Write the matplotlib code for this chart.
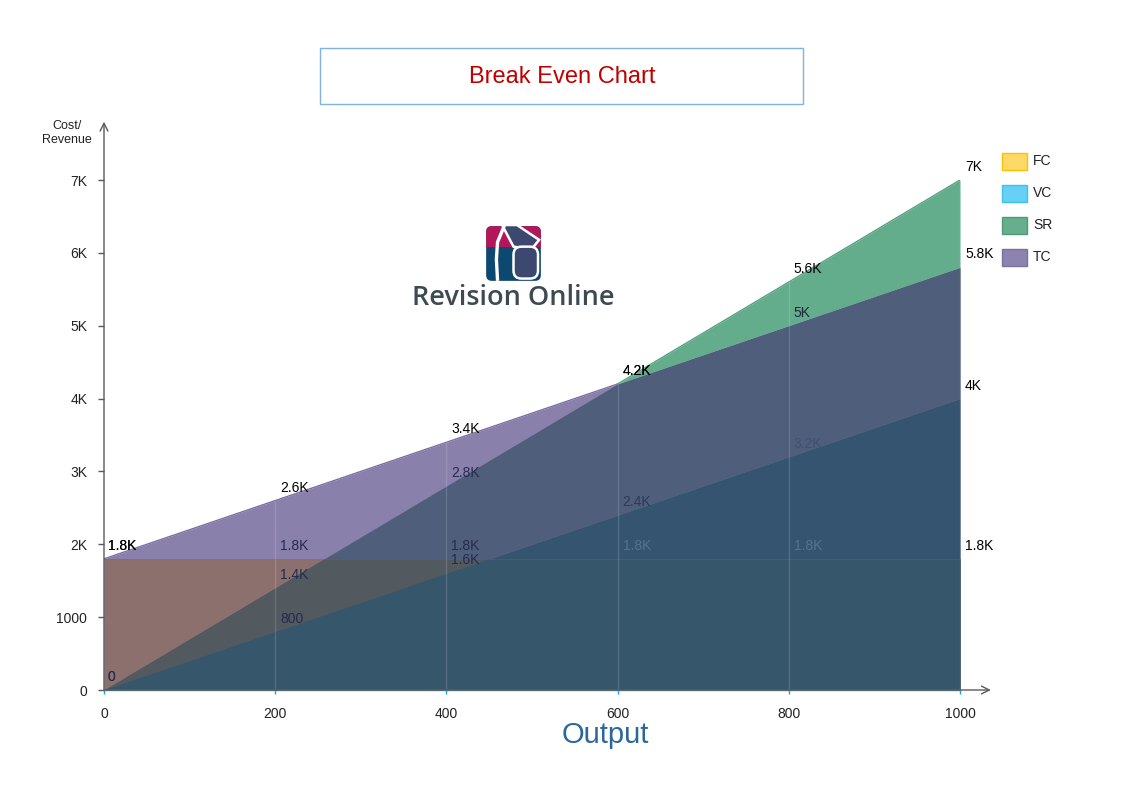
import numpy as np
import matplotlib
matplotlib.use('Agg')
import matplotlib.pyplot as plt
from matplotlib.patches import Rectangle, FancyBboxPatch, Polygon

plt.rcParams['font.family'] = ['Liberation Sans', 'DejaVu Sans']

# Break even data
output = [0, 200, 400, 600, 800, 1000]
fc = [1800, 1800, 1800, 1800, 1800, 1800]      # fixed cost
vc = [0, 800, 1600, 2400, 3200, 4000]          # variable cost
sr = [0, 1400, 2800, 4200, 5600, 7000]         # sales revenue
tc = [1800, 2600, 3400, 4200, 5000, 5800]      # total cost

y_ticks = [0, 1000, 2000, 3000, 4000, 5000, 6000, 7000]
y_tick_labels = ['0', '1000', '2K', '3K', '4K', '5K', '6K', '7K']
legend_names = ['FC', 'VC', 'SR', 'TC']

W, H = 1123, 794


def px(x, y):
    # figure pixel (from top-left) -> figure fraction
    return x / W, 1 - y / H


def fmt(v):
    if v >= 1000:
        s = '%.1f' % (v / 1000)
        return s.rstrip('0').rstrip('.') + 'K'
    return '%d' % v


fig = plt.figure(figsize=(W / 100, H / 100), dpi=100)
ax = fig.add_axes([104 / W, 104 / H, 856 / W, 510 / H])
ax.set_xlim(0, 1000)
ax.set_ylim(0, 7000)

# dense grid only for drawing the straight segments between points
xx = np.linspace(0, 1000, 1001)
fc_i = np.interp(xx, output, fc)
vc_i = np.interp(xx, output, vc)
sr_i = np.interp(xx, output, sr)
tc_i = np.interp(xx, output, tc)

ax.fill_between(xx, 0, tc_i, color='#8A80AC', lw=0)
ax.fill_between(xx, 0, fc_i, color='#8B706E', lw=0)
ax.fill_between(xx, tc_i, np.maximum(sr_i, tc_i), color='#64AD8C', lw=0)
mid_top = np.minimum(sr_i, tc_i)
ax.fill_between(xx, vc_i, mid_top, where=mid_top > vc_i, color='#4E5E7B', lw=0)
low_top = np.minimum(mid_top, fc_i)
ax.fill_between(xx, vc_i, low_top, where=low_top > vc_i, color='#52595F', lw=0)
ax.fill_between(xx, 0, vc_i, color='#34546F', lw=0)
ax.fill_between(xx, 0, np.minimum(vc_i, fc_i), color='#36566C', lw=0)

# edges, only where the series is the outer boundary
ax.plot(xx, np.where(tc_i >= sr_i - 1, tc_i, np.nan), color='#7A6FA0', lw=1)
ax.plot(xx, np.where(sr_i >= tc_i - 1, sr_i, np.nan), color='#55A081', lw=1)
ax.plot(output, fc, color='#7A625E', lw=0.8, alpha=0.35)

# faint vertical lines at each point
tops = np.maximum(sr, tc)
ax.vlines(output[1:], 0, tops[1:], colors='white', alpha=0.15, lw=1)

# data labels
series = [('FC', fc), ('VC', vc), ('SR', sr), ('TC', tc)]
dark = '#262B4D'
faded = {('FC', 3): '#557390', ('FC', 4): '#557390', ('FC', 5): 'black',
         ('VC', 3): '#2C3A57', ('VC', 4): '#3D5272', ('VC', 5): 'black',
         ('SR', 5): 'black', ('TC', 5): 'black',
         ('FC', 0): 'black', ('TC', 0): 'black',
         ('TC', 1): 'black', ('TC', 2): 'black', ('TC', 3): 'black',
         ('SR', 3): 'black', ('SR', 4): 'black', ('TC', 4): '#1F2538'}
for name, vals in series:
    for i, (x, v) in enumerate(zip(output, vals)):
        col = faded.get((name, i), dark)
        dx = 5 if i > 0 else 4
        ax.annotate(fmt(v), (x, v), xytext=(dx, 13), textcoords='offset pixels',
                    ha='left', va='center', fontsize=10, color=col,
                    annotation_clip=False)

# axes
for s in ax.spines.values():
    s.set_visible(False)
ax.annotate('', xy=(0, 7800), xytext=(0, 0), annotation_clip=False,
            arrowprops=dict(arrowstyle='->', color='#595959', lw=1,
                            mutation_scale=14, shrinkA=0, shrinkB=0))
ax.annotate('', xy=(1036, 0), xytext=(0, 0), annotation_clip=False,
            arrowprops=dict(arrowstyle='->', color='#595959', lw=1,
                            mutation_scale=14, shrinkA=0, shrinkB=0))
ax.plot([0, 1000], [0, 0], color='#4C8FA2', lw=1, clip_on=False)

ax.set_yticks(y_ticks)
ax.set_yticklabels(y_tick_labels)
ax.set_xticks(output)
ax.set_xticklabels([str(v) for v in output])
ax.tick_params(axis='y', direction='out', length=4, width=1, color='#595959',
               pad=8, labelsize=10, labelcolor='#222222')
ax.tick_params(axis='x', direction='out', length=3, width=1, color='#00B0F0',
               pad=9, labelsize=10, labelcolor='#222222')

fig.text(*px(67, 133), 'Cost/\nRevenue', ha='center', va='center',
         fontsize=9, color='#222222', linespacing=1.3)
fig.text(*px(605, 735), 'Output', ha='center', va='center', fontsize=21,
         color='#2A6899')

# title box
x0, y0 = px(320, 104)
fig.patches.append(Rectangle((x0, y0), 483 / W, 56 / H, transform=fig.transFigure,
                             fill=False, edgecolor='#7FB2E5', lw=1))
fig.text(*px(562, 77), 'Break Even Chart', ha='center', va='center',
         fontsize=17, color='#C00000')

# legend
leg_face = ['#FFD966', '#66D0F5', '#66AE8E', '#8C83AE']
leg_edge = ['#FFC000', '#3FC0EE', '#4E9A78', '#7A6F9F']
for k, (name, fcol, ecol) in enumerate(zip(legend_names, leg_face, leg_edge)):
    yc = 161 + 32 * k
    lx, ly = px(1002, yc + 8.5)
    fig.patches.append(Rectangle((lx, ly), 25 / W, 17 / H, transform=fig.transFigure,
                                 facecolor=fcol, edgecolor=ecol, lw=1))
    fig.text(*px(1033, yc), name, ha='left', va='center', fontsize=10,
             color='#222222')

# logo
lax = fig.add_axes([485 / W, (H - 282) / H, 57 / W, 57 / H])
lax.set_xlim(0, 1)
lax.set_ylim(0, 1)
lax.axis('off')
base = FancyBboxPatch((0.02, 0.02), 0.96, 0.96, boxstyle='round,pad=0,rounding_size=0.1',
                      facecolor='#0C4870', edgecolor='none')
lax.add_patch(base)
crimson = Rectangle((0, 0.62), 1, 0.4, facecolor='#B3175A', edgecolor='none')
lax.add_patch(crimson)
crimson.set_clip_path(base)
# slate lobe of the R
lax.add_patch(Polygon([[0.3, 1.0], [0.56, 1.0], [0.95, 0.74], [0.82, 0.58], [0.5, 0.62]],
                      closed=True, facecolor='#3C4870', edgecolor='white', lw=1.8))
# white leg of the R
lax.plot([0.34, 0.22, 0.2, 0.22], [0.99, 0.7, 0.4, 0.02], color='white', lw=2.4,
         solid_capstyle='butt')
# slate C
lax.add_patch(FancyBboxPatch((0.5, 0.06), 0.43, 0.56, boxstyle='round,pad=0,rounding_size=0.14',
                             facecolor='#3C4870', edgecolor='white', lw=1.8))
fig.text(*px(513, 298), 'Revision Online', ha='center', va='center',
         fontsize=19.5, color='#3E4A52', family=['Open Sans', 'DejaVu Sans'],
         weight='semibold')

fig.savefig('out.png', dpi=100)
